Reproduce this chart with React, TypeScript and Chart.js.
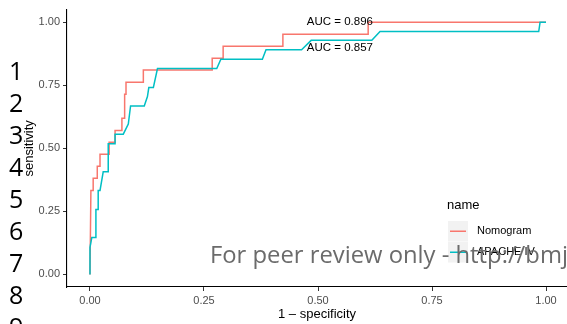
import { useEffect, useRef } from "react";
import { Chart, registerables } from "chart.js";

Chart.register(...registerables);

// ROC curve points (1 - specificity, sensitivity)
const nomogramFPR = [0, 0.002, 0.007, 0.007, 0.016, 0.016, 0.022, 0.022, 0.042, 0.042, 0.055, 0.055, 0.070, 0.070, 0.076, 0.076, 0.079, 0.079, 0.117, 0.117, 0.268, 0.268, 0.292, 0.292, 0.423, 0.423, 0.610, 0.610, 1.0];
const nomogramSens = [0, 0.333, 0.333, 0.381, 0.381, 0.429, 0.429, 0.476, 0.476, 0.524, 0.524, 0.571, 0.571, 0.619, 0.619, 0.714, 0.714, 0.762, 0.762, 0.810, 0.810, 0.857, 0.857, 0.905, 0.905, 0.952, 0.952, 1.0, 1.0];
const apacheFPR = [0, 0, 0.004, 0.013, 0.013, 0.018, 0.018, 0.022, 0.029, 0.040, 0.040, 0.055, 0.055, 0.073, 0.084, 0.089, 0.119, 0.126, 0.129, 0.139, 0.148, 0.278, 0.287, 0.378, 0.386, 0.464, 0.485, 0.618, 0.636, 0.984, 0.987, 1.0];
const apacheSens = [0, 0.107, 0.146, 0.146, 0.257, 0.257, 0.333, 0.333, 0.407, 0.407, 0.518, 0.518, 0.556, 0.556, 0.596, 0.668, 0.668, 0.705, 0.741, 0.741, 0.816, 0.816, 0.853, 0.853, 0.891, 0.891, 0.928, 0.928, 0.963, 0.963, 1.0, 1.0];

const seriesNames = ["Nomogram", "APACHE IV"];
const seriesColors = ["#F8766D", "#00BFC4"];
const aucLabels = ["AUC = 0.896", "AUC = 0.857"];
const aucX = [0.548, 0.548];
const aucY = [1.0, 0.9];
const xTicks = [0, 0.25, 0.5, 0.75, 1];
const yTicks = [0, 0.25, 0.5, 0.75, 1];
const legendTitle = "name";
const xTitle = "1 \u2013 specificity";
const yTitle = "sensitivity";
const lineNumbers = ["1", "2", "3", "4", "5", "6", "7", "8", "9"];
const watermark = "For peer review only - http://bmjopen.bmj.com/site/about/guidelines.xhtml";

const toPoints = (xs: number[], ys: number[]) => xs.map((x, i) => ({ x, y: ys[i] }));

const overlayPlugin = {
  id: "overlay",
  afterDatasetsDraw(chart: any) {
    const ctx = chart.ctx as CanvasRenderingContext2D;
    const xs = chart.scales.x;
    const ys = chart.scales.y;
    ctx.save();
    ctx.fillStyle = "#000";
    ctx.font = "11.5px 'Liberation Sans', Arial, sans-serif";
    ctx.textAlign = "center";
    ctx.textBaseline = "middle";
    aucLabels.forEach((t, i) => {
      ctx.fillText(t, xs.getPixelForValue(aucX[i]), ys.getPixelForValue(aucY[i]));
    });
    ctx.restore();
  },
  afterDraw(chart: any) {
    const ctx = chart.ctx as CanvasRenderingContext2D;
    ctx.save();
    // legend
    ctx.fillStyle = "#000";
    ctx.textAlign = "left";
    ctx.textBaseline = "middle";
    ctx.font = "13px 'Liberation Sans', Arial, sans-serif";
    ctx.fillText(legendTitle, 447, 205);
    const keyX = 448;
    const keyY0 = 221;
    const keyH = 20.5;
    seriesNames.forEach((name, i) => {
      const y = keyY0 + i * (keyH + 0.5);
      ctx.fillStyle = "#f2f2f2";
      ctx.fillRect(keyX, y, 20, keyH);
      ctx.strokeStyle = seriesColors[i];
      ctx.lineWidth = 1.5;
      ctx.beginPath();
      ctx.moveTo(keyX + 2, y + keyH / 2);
      ctx.lineTo(keyX + 18, y + keyH / 2);
      ctx.stroke();
      ctx.fillStyle = "#000";
      ctx.font = "11px 'Liberation Sans', Arial, sans-serif";
      ctx.fillText(name, 477, y + keyH / 2);
    });
    // watermark
    ctx.fillStyle = "#6b6b6b";
    ctx.font = "23.8px 'Open Sans', sans-serif";
    ctx.textBaseline = "alphabetic";
    ctx.fillText(watermark, 210, 263);
    // line numbers
    ctx.fillStyle = "#000";
    ctx.font = "25px 'Open Sans', sans-serif";
    ctx.textBaseline = "middle";
    lineNumbers.forEach((n, i) => {
      ctx.fillText(n, 9, 72.5 + i * 32);
    });
    ctx.restore();
  },
};

export default function App() {
  const ref = useRef<HTMLCanvasElement | null>(null);
  useEffect(() => {
    if (!ref.current) return;
    const tickFont = { family: "'Liberation Sans', Arial, sans-serif", size: 11 };
    const titleFont = { family: "'Liberation Sans', Arial, sans-serif", size: 13 };
    const chart = new Chart(ref.current, {
      type: "line",
      data: {
        datasets: [
          {
            label: seriesNames[0],
            data: toPoints(nomogramFPR, nomogramSens),
            borderColor: seriesColors[0],
            backgroundColor: seriesColors[0],
            borderWidth: 1.5,
            pointRadius: 0,
            tension: 0,
            fill: false,
            order: 2,
          },
          {
            label: seriesNames[1],
            data: toPoints(apacheFPR, apacheSens),
            borderColor: seriesColors[1],
            backgroundColor: seriesColors[1],
            borderWidth: 1.5,
            pointRadius: 0,
            tension: 0,
            fill: false,
            order: 1,
          },
        ],
      },
      options: {
        animation: false,
        responsive: false,
        maintainAspectRatio: false,
        events: [],
        layout: { padding: { top: 7, left: 0, right: 0, bottom: 0 } },
        plugins: { legend: { display: false }, tooltip: { enabled: false } },
        scales: {
          x: {
            type: "linear",
            min: -0.0504,
            max: 1.046,
            afterBuildTicks: (axis: any) => {
              axis.ticks = xTicks.map((v) => ({ value: v }));
            },
            afterFit: (axis: any) => {
              axis.height = 37;
            },
            grid: { display: true, drawOnChartArea: false, drawTicks: true, tickLength: 4, tickColor: "#333", color: "#333" },
            border: { display: true, color: "#000", width: 1.1 },
            ticks: {
              color: "#4d4d4d",
              font: tickFont,
              padding: 3,
              maxRotation: 0,
              autoSkip: false,
              callback: (v: any) => Number(v).toFixed(2),
            },
            title: { display: true, text: xTitle, color: "#000", font: titleFont, padding: { top: 0, bottom: 2 } },
          },
          y: {
            type: "linear",
            min: -0.05,
            max: 1.05,
            afterBuildTicks: (axis: any) => {
              axis.ticks = yTicks.map((v) => ({ value: v }));
            },
            afterFit: (axis: any) => {
              axis.width = 67;
            },
            grid: { display: true, drawOnChartArea: false, drawTicks: true, tickLength: 4, tickColor: "#333", color: "#333" },
            border: { display: true, color: "#000", width: 1.1 },
            ticks: {
              color: "#4d4d4d",
              font: tickFont,
              padding: 3,
              autoSkip: false,
              callback: (v: any) => Number(v).toFixed(2),
            },
            title: { display: true, text: yTitle, color: "#000", font: titleFont, padding: { top: 22, bottom: 0 } },
          },
        },
      },
      plugins: [overlayPlugin],
    });
    return () => chart.destroy();
  }, []);
  return (
    <div style={{ position: "absolute", left: 0, top: 0, width: 567, height: 324, background: "#fff", overflow: "hidden" }}>
      <canvas ref={ref} width={567} height={324} style={{ display: "block", width: 567, height: 324 }} />
    </div>
  );
}
